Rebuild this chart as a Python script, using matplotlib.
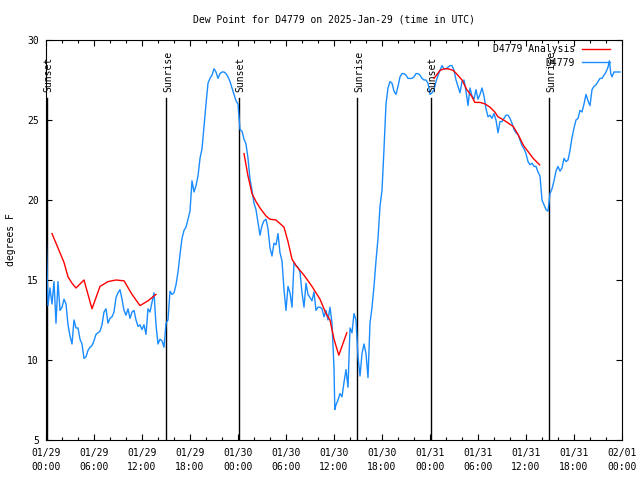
import matplotlib

matplotlib.use("Agg")
import matplotlib.pyplot as plt
import numpy as np

title = "Dew Point for D4779 on 2025-Jan-29 (time in UTC)"
y_label = "degrees F"
tick_hours = [0, 6, 12, 18, 24, 30, 36, 42, 48, 54, 60, 66, 72]
tick_labels = ["01/29\n00:00", "01/29\n06:00", "01/29\n12:00", "01/29\n18:00",
               "01/30\n00:00", "01/30\n06:00", "01/30\n12:00", "01/30\n18:00",
               "01/31\n00:00", "01/31\n06:00", "01/31\n12:00", "01/31\n18:00",
               "02/01\n00:00"]

event_names = ["Sunset", "Sunrise", "Sunset", "Sunrise", "Sunset", "Sunrise"]
event_hours = [0.1, 15.0, 24.1, 38.9, 48.1, 62.9]

obs_hours = [
    0.0, 0.25, 0.5, 0.75, 1.0, 1.25, 1.5, 1.75, 2.0, 2.25, 2.5, 2.75, 3.0, 3.25, 3.5, 3.75,
    4.0, 4.25, 4.5, 4.75, 5.0, 5.25, 5.5, 5.75, 6.0, 6.25, 6.5, 6.75, 7.0, 7.25, 7.5, 7.75,
    8.0, 8.25, 8.5, 8.75, 9.0, 9.25, 9.5, 9.75, 10.0, 10.25, 10.5, 10.75, 11.0, 11.25, 11.5, 11.75,
    12.0, 12.25, 12.5, 12.75, 13.0, 13.25, 13.5, 13.75, 14.0, 14.25, 14.5, 14.75, 15.0, 15.25, 15.5, 15.75,
    16.0, 16.25, 16.5, 16.75, 17.0, 17.25, 17.5, 17.75, 18.0, 18.25, 18.5, 18.75, 19.0, 19.25, 19.5, 19.75,
    20.0, 20.25, 20.5, 20.75, 21.0, 21.25, 21.5, 21.75, 22.0, 22.25, 22.5, 22.75, 23.0, 23.25, 23.5, 23.75,
    24.0, 24.25, 24.5, 24.75, 25.0, 25.25, 25.5, 25.75, 26.0, 26.25, 26.5, 26.75, 27.0, 27.25, 27.5, 27.75,
    28.0, 28.25, 28.5, 28.75, 29.0, 29.25, 29.5, 29.75, 30.0, 30.25, 30.5, 30.75, 31.0, 31.25, 31.5, 31.75,
    32.0, 32.25, 32.5, 32.75, 33.0, 33.25, 33.5, 33.75, 34.0, 34.25, 34.5, 34.75, 35.0, 35.25, 35.5, 35.75,
    36.0, 36.1, 36.25, 36.5, 36.75, 37.0, 37.25, 37.5, 37.75, 38.0, 38.25, 38.5, 38.75, 39.0, 39.25, 39.5, 39.75,
    40.0, 40.25, 40.5, 40.75, 41.0, 41.25, 41.5, 41.75, 42.0, 42.25, 42.5, 42.75, 43.0, 43.25, 43.5, 43.75,
    44.0, 44.25, 44.5, 44.75, 45.0, 45.25, 45.5, 45.75, 46.0, 46.25, 46.5, 46.75, 47.0, 47.25, 47.5, 47.75,
    48.0, 48.25, 48.5, 48.75, 49.0, 49.25, 49.5, 49.75, 50.0, 50.25, 50.5, 50.75, 51.0, 51.25, 51.5, 51.75,
    52.0, 52.25, 52.5, 52.75, 53.0, 53.25, 53.5, 53.75, 54.0, 54.25, 54.5, 54.75, 55.0, 55.25, 55.5, 55.75,
    56.0, 56.25, 56.5, 56.75, 57.0, 57.25, 57.5, 57.75, 58.0, 58.25, 58.5, 58.75, 59.0, 59.25, 59.5, 59.75,
    60.0, 60.25, 60.5, 60.75, 61.0, 61.25, 61.5, 61.75, 62.0, 62.25, 62.5, 62.75, 63.0, 63.25, 63.5, 63.75,
    64.0, 64.25, 64.5, 64.75, 65.0, 65.25, 65.5, 65.75, 66.0, 66.25, 66.5, 66.75, 67.0, 67.25, 67.5, 67.75,
    68.0, 68.25, 68.5, 68.75, 69.0, 69.25, 69.5, 69.75, 70.0, 70.25, 70.42, 70.6, 70.75, 71.0, 71.25, 71.5, 71.75,
]
obs_dewpoint = [
    18.2, 13.4, 14.5, 13.5, 14.9, 12.3, 14.9, 13.1, 13.3, 13.8, 13.5, 12.2, 11.5, 11.0, 12.5, 12.0,
    12.0, 11.3, 11.0, 10.1, 10.2, 10.6, 10.8, 10.9, 11.2, 11.6, 11.7, 11.8, 12.2, 13.0, 13.2, 12.3,
    12.6, 12.7, 13.0, 13.9, 14.2, 14.4, 13.8, 13.1, 12.8, 13.2, 12.6, 13.0, 13.1, 12.5, 12.1, 12.2,
    11.9, 12.2, 11.6, 13.2, 13.0, 13.6, 14.2, 12.2, 11.0, 11.3, 11.2, 10.8, 12.3, 12.5, 14.3, 14.1,
    14.2, 14.7, 15.5, 16.6, 17.6, 18.1, 18.3, 18.8, 19.3, 21.2, 20.5, 20.9, 21.5, 22.6, 23.2, 24.6,
    26.0, 27.3, 27.6, 27.8, 28.2, 28.0, 27.6, 27.9, 28.0, 28.0, 27.9, 27.7, 27.4, 27.0, 26.6, 26.2,
    26.0, 24.4, 24.3, 23.8, 23.5, 22.6, 21.3, 20.6, 19.8, 19.4, 18.6, 17.8, 18.4, 18.7, 18.8, 18.2,
    17.0, 16.5, 17.3, 17.2, 17.9, 16.7, 16.2, 14.4, 13.1, 14.6, 14.2, 13.3, 16.1, 15.9, 15.8, 15.5,
    14.2, 13.3, 14.8, 14.1, 13.9, 13.7, 14.25, 13.1, 13.3, 13.3, 13.2, 12.7, 13.1, 12.5, 13.3, 12.3,
    9.5, 6.9, 7.2, 7.5, 7.9, 7.7, 8.6, 9.4, 8.3, 12.0, 11.7, 12.9, 12.5, 10.2, 9.0, 10.4, 11.0,
    10.4, 8.9, 12.3, 13.3, 14.6, 16.2, 17.6, 19.6, 20.6, 23.2, 26.0, 27.0, 27.4, 27.3, 26.8, 26.6,
    27.1, 27.7, 27.9, 27.9, 27.8, 27.6, 27.6, 27.6, 27.7, 27.9, 27.9, 27.8, 27.6, 27.5, 27.5, 27.3,
    26.6, 26.7, 26.9, 27.4, 27.8, 28.1, 28.4, 28.2, 28.2, 28.3, 28.4, 28.4, 28.1, 27.5, 27.1, 26.7,
    27.4, 27.5, 26.8, 25.9, 27.0, 26.5, 26.3, 26.9, 26.3, 26.6, 27.0, 26.5, 25.7, 25.2, 25.3, 25.1,
    25.4, 25.0, 24.2, 24.9, 24.9, 25.1, 25.3, 25.3, 25.1, 24.8, 24.4, 24.2, 24.1, 23.75, 23.4, 23.2,
    22.9, 22.4, 22.2, 22.3, 22.1, 22.1, 21.75, 21.5, 20.0, 19.7, 19.4, 19.3, 20.4, 20.7, 21.2, 21.8,
    22.1, 21.8, 22.0, 22.6, 22.4, 22.5, 23.1, 23.9, 24.5, 25.0, 25.1, 25.6, 25.5, 26.0, 26.6, 26.2,
    25.9, 26.9, 27.1, 27.2, 27.4, 27.6, 27.6, 27.8, 28.0, 28.3, 28.7, 27.9, 27.7, 28.0, 28.0, 28.0, 28.0,
]

nan = np.nan
analysis_hours = [
    0.75, 1.5, 2.25, 2.75, 3.25, 3.75, 4.75, 5.75, 6.75, 7.75, 8.75, 9.75, 10.75, 11.75, 12.75, 13.75,
    14.0,
    24.75, 25.25, 25.75, 26.25, 26.75, 27.5, 28.0, 28.75, 29.75, 30.25, 30.75, 31.25, 32.25, 33.25,
    34.25, 35.0, 35.5, 36.0, 36.6, 37.6,
    38.0,
    48.5, 49.25, 49.75, 50.25, 50.9, 51.3, 52.0, 52.6, 53.2, 53.6, 54.25, 54.9, 55.5, 56.1, 56.5,
    57.2, 57.8, 58.4, 59.0, 59.7, 60.3, 60.9, 61.7,
]
analysis_dewpoint = [
    17.9, 17.0, 16.1, 15.2, 14.8, 14.5, 15.0, 13.2, 14.6, 14.9, 15.0, 14.95, 14.1, 13.4, 13.7, 14.1,
    nan,
    22.9, 21.5, 20.4, 19.9, 19.5, 19.0, 18.8, 18.75, 18.3, 17.4, 16.3, 15.9, 15.3, 14.6,
    13.8, 12.9, 12.5, 11.3, 10.3, 11.7,
    nan,
    27.6, 28.1, 28.2, 28.2, 28.1, 27.9, 27.5, 26.9, 26.5, 26.1, 26.1, 26.0, 25.8, 25.5, 25.2,
    25.0, 24.8, 24.6, 24.1, 23.4, 23.0, 22.6, 22.2,
]

plt.rcParams["font.family"] = ["DejaVu Sans Mono", "DejaVu Sans"]
plt.rcParams["font.size"] = 7

fig = plt.figure(figsize=(6.4, 4.8), dpi=100)
ax = fig.add_axes([46 / 640, 40 / 480, 576 / 640, 400 / 480])

for name, hour in zip(event_names, event_hours):
    ax.plot([hour, hour], [5, 26.4], color="black", lw=1.0, zorder=1)
    ax.text(hour + 0.25, 26.75, name, rotation=90, ha="center", va="bottom", fontsize=7)

ax.plot(analysis_hours, analysis_dewpoint, color="#ff0000", lw=1.0, label="D4779 Analysis", zorder=3)
ax.plot(obs_hours, obs_dewpoint, color="#1a8cff", lw=1.0, label="D4779", zorder=2)

ax.set_xlim(0, 72)
ax.set_ylim(5, 30)
ax.set_xticks(tick_hours, tick_labels)
ax.set_xticks(np.arange(0, 73, 2), minor=True)
ax.set_yticks([5, 10, 15, 20, 25, 30])
ax.tick_params(which="both", direction="in", top=True, right=True, width=0.8)
ax.tick_params(which="major", length=4, pad=5)
ax.tick_params(axis="x", which="major", pad=6)
ax.tick_params(which="minor", length=2)
for label in ax.get_xticklabels():
    label.set_linespacing(1.45)
for spine in ax.spines.values():
    spine.set_linewidth(0.8)

ax.set_ylabel(y_label, labelpad=8.5)
fig.text(334 / 640, 1 - 19 / 480, title, ha="center", va="center", fontsize=7)

ax.legend(loc="upper right", bbox_to_anchor=((610 - 46) / 576, 0.99), frameon=False, markerfirst=False,
          handlelength=2.9, labelspacing=0.4, handletextpad=0.7, borderaxespad=0.0, borderpad=0.0,
          fontsize=7)

fig.savefig("out.png", dpi=100)
plt.close(fig)
